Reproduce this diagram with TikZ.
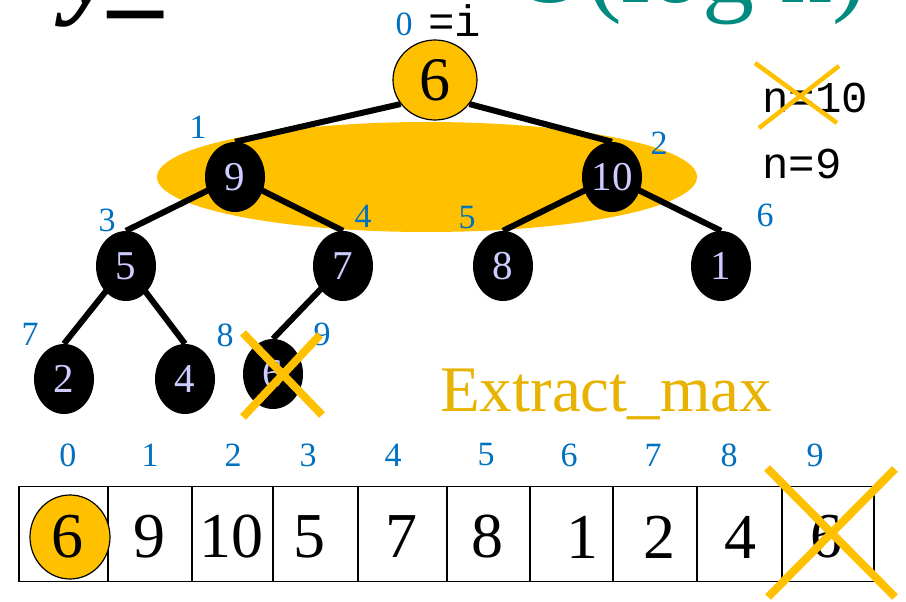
\documentclass[tikz,border=0pt]{standalone}
\usepackage{fontspec}
\setmainfont{Liberation Serif}
\setmonofont{Liberation Mono}
\usetikzlibrary{shapes.geometric,backgrounds,calc}
\definecolor{heapyellow}{HTML}{FFC000}
\definecolor{idxblue}{HTML}{0070C0}
\definecolor{keylav}{HTML}{CCCCFF}
\definecolor{opgold}{HTML}{E8B200}
\definecolor{titleteal}{HTML}{008A80}
\tikzset{x=1pt,y=-1pt,
  heapnode/.style={ellipse,fill=black,text=keylav,minimum width=60pt,
    minimum height=70pt,inner sep=0pt,font=\fontsize{41}{41}\selectfont},
  rootnode/.style={ellipse,fill=heapyellow,draw=black,line width=1.2pt,
    minimum width=84pt,minimum height=80pt,inner sep=0pt,
    font=\fontsize{62}{62}\selectfont},
  idx/.style={text=idxblue,inner sep=0pt,font=\fontsize{34}{34}\selectfont},
  monolabel/.style={anchor=base west,inner sep=0pt,
    font=\ttfamily\fontsize{44}{44}\selectfont},
  cellbox/.style={draw=black,line width=1.6pt,minimum height=95pt,inner sep=0pt},
  cellval/.style={inner sep=0pt,font=\fontsize{64}{64}\selectfont},
  tree edge/.style={line width=6pt},
  xmark/.style={draw=heapyellow,line width=8pt}}
\begin{document}
\begin{tikzpicture}
\useasboundingbox (0,0) rectangle (906,602);
% title line, cut off at the top
\begin{scope}
\clip (0,0) rectangle (906,602);
\node[anchor=base west,inner sep=0pt,font=\bfseries\itshape\fontsize{110}{110}\selectfont] (ttl) at (66,4) {y\_};
\node[anchor=base west,inner sep=0pt,text=titleteal,font=\fontsize{104}{104}\selectfont] (cost) at (512,3) {O(log n)};
\end{scope}
% level highlighted during the swap
\begin{scope}[on background layer]
\fill[heapyellow] (427,177) ellipse (270 and 55);
\end{scope}
% heap as a tree
\node[rootnode] (n0) at (435,80) {6};
\node[heapnode] (n1) at (235,177) {9};
\node[heapnode] (n2) at (612,177) {10};
\node[heapnode] (n3) at (126,266) {5};
\node[heapnode] (n4) at (343,266) {7};
\node[heapnode] (n5) at (503,266) {8};
\node[heapnode] (n6) at (721,266) {1};
\node[heapnode] (n7) at (64,379) {2};
\node[heapnode] (n8) at (185,379) {4};
\node[heapnode] (n9) at (273,374) {6};
\begin{scope}[on background layer]
\foreach \p/\c/\a in {n0/n1/215,n0/n2/325,n1/n3/center,n1/n4/center,
  n2/n5/center,n2/n6/center,n3/n7/center,n3/n8/center,n4/n9/center}
  \draw[tree edge] (\p.\a) -- (\c.north);
\end{scope}
% indices next to the tree
\foreach \i/\x/\y in {0/404/24,1/198/127,2/659/143,3/107/220,4/363/216,
  5/467/218,6/765/215,7/30/334,8/225/335,9/322/334}
  \node[idx] (t\i) at (\x,\y) {\i};
\node[monolabel] (ivar) at (428,37) {=i};
\draw[xmark] ($(n9)+(-30,-41)$) -- ($(n9)+(49,41)$);
\draw[xmark] ($(n9)+(-30,43)$) -- ($(n9)+(47,-39)$);
% size counter
\node[monolabel] (nold) at (762,113) {n=10};
\node[monolabel] (nnew) at (762,178) {n=9};
\draw[draw=heapyellow,line width=4.5pt] ($(nold.base west)+(-7,-50)$) -- ($(nold.base west)+(75,10)$);
\draw[draw=heapyellow,line width=4.5pt] ($(nold.base west)+(-3,15)$) -- ($(nold.base west)+(77,-47)$);
\node[anchor=base west,inner sep=0pt,text=opgold,font=\fontsize{65}{65}\selectfont] (op) at (440,411) {Extract\_max};
% heap as an array
\foreach \i/\l/\r in {0/19/108,1/108/192,2/192/273,3/273/358,
  4/358/447,5/447/530,6/530/613,7/613/697,8/697/782,9/782/874}
  \node[cellbox,minimum width={(\r-\l)*1pt}] (c\i) at ({(\l+\r)/2},534) {};
\node[rootnode,minimum width=80pt,minimum height=84pt] (top) at (70,537) {};
\foreach \i/\x/\v in {0/68/6,1/149/9,2/231/10,3/309/5,4/401/7,5/487/8,
  6/582/1,7/659/2,8/740/4,9/826/6}
  \node[cellval] (v\i) at (\x,537) {\v};
\foreach \i/\x in {0/68,1/150,2/233,3/308,4/393,5/486,6/569,7/653,8/729,9/815}
  \node[idx] (a\i) at (\x,455) {\i};
\draw[xmark] ($(c9)+(-61,-66)$) -- ($(c9)+(67,63)$);
\draw[xmark] ($(c9)+(-60,63)$) -- ($(c9)+(67,-65)$);
\end{tikzpicture}
\end{document}
